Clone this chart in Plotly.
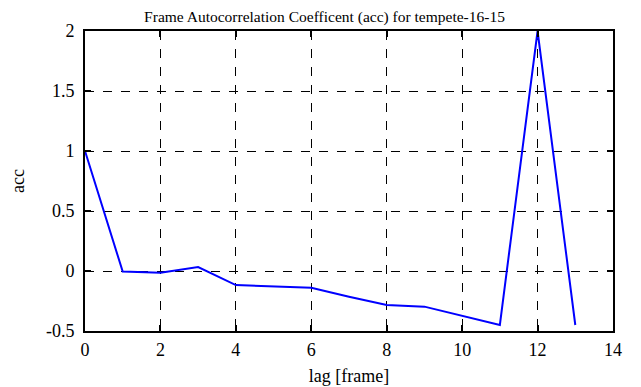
import plotly.graph_objects as go

lags = [0, 1, 2, 3, 4, 5, 6, 7, 8, 9, 10, 11, 12, 13]
acc = [1.0, -0.005, -0.014, 0.033, -0.117, -0.13, -0.14, -0.214, -0.283, -0.297, -0.372, -0.45, 2.0, -0.45]

x_ticks = [0, 2, 4, 6, 8, 10, 12, 14]
y_ticks = [-0.5, 0, 0.5, 1, 1.5, 2]
y_labels = ["-0.5", "0", "0.5", "1", "1.5", "2"]

SERIF = "Liberation Serif"


def f(size, fam=SERIF):
    return dict(family=fam, size=size, color="black")


fig = go.Figure()
fig.add_trace(go.Scatter(x=lags, y=acc, mode="lines",
                         line=dict(color="#0000ff", width=2)))


def axis_common():
    return dict(showline=True, linecolor="black", linewidth=2, mirror="ticks",
                ticks="inside", ticklen=6, tickwidth=1.5, tickcolor="black",
                showgrid=True, gridcolor="black", griddash="dash", gridwidth=1,
                zeroline=False, automargin=False, tickfont=f(18))


fig.update_layout(
    width=633, height=379,
    margin=dict(l=77, r=28, t=23, b=56),
    paper_bgcolor="white", plot_bgcolor="white",
    showlegend=False,
    font=f(18),
    title=dict(text="Frame Autocorrelation Coefficent (acc) for tempete-16-15",
               x=0.5, xanchor="center", y=0.993, yanchor="top", pad=dict(t=0),
               font=f(15.5)),
    xaxis=dict(range=[0, 14], tickvals=x_ticks, ticklabelstandoff=1,
               title=dict(text="lag [frame]", standoff=11, font=f(18)), **axis_common()),
    yaxis=dict(range=[-0.5, 2], tickvals=y_ticks, ticktext=y_labels, ticklabelstandoff=5,
               title=dict(text="acc", standoff=39, font=f(18)), **axis_common()),
)

fig.write_html("out.html")
